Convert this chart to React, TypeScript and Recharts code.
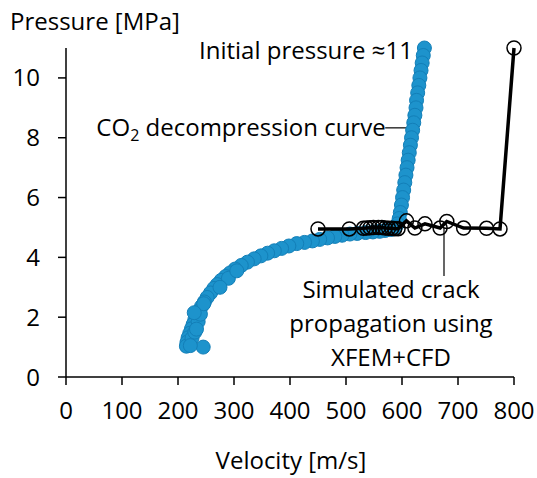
import React from 'react';
import { ScatterChart, Scatter, XAxis, YAxis, ReferenceLine } from 'recharts';

const FONT = '"Open Sans", "Noto Sans", sans-serif';

// CO2 decompression curve [velocity m/s, pressure MPa]
const co2Velocity = [
  640, 638, 636, 634, 632, 630, 628, 626, 625, 623, 621, 619, 617, 615, 613, 611, 609, 607, 605, 603, 601, 599, 597,
  595, 592, 588, 580, 570, 560, 548, 535, 520, 507, 493, 480, 467, 453, 440, 426, 412, 398, 385, 372, 360, 348, 336,
  324, 313, 302, 293, 285, 277, 270, 264, 258, 252, 247, 242, 238, 234, 230, 227, 224, 221, 218, 216, 215,
  245, 236, 240, 225, 230, 222, 246, 229, 233, 290, 305, 275,
];
const co2Pressure = [
  11.0, 10.75, 10.5, 10.25, 10.0, 9.75, 9.5, 9.25, 9.0, 8.75, 8.5, 8.25, 8.0, 7.75, 7.5, 7.25, 7.0, 6.75, 6.5, 6.25, 6.0, 5.75, 5.5,
  5.3, 5.12, 5.0, 4.93, 4.9, 4.87, 4.85, 4.83, 4.8, 4.78, 4.74, 4.7, 4.65, 4.6, 4.55, 4.5, 4.46, 4.38, 4.3, 4.22, 4.14, 4.05, 3.95,
  3.84, 3.73, 3.61, 3.48, 3.36, 3.23, 3.09, 2.96, 2.81, 2.66, 2.51, 2.36, 2.21, 2.06, 1.91, 1.76, 1.61, 1.46, 1.31, 1.16, 1.03,
  1.0, 1.85, 2.1, 1.3, 1.5, 1.05, 2.45, 2.15, 1.6, 3.3, 3.55, 3.0,
];

// Simulated crack propagation (XFEM+CFD)
const simVelocity = [450, 506, 531, 537, 543, 549, 558, 564, 570, 576, 582, 587, 593, 608, 623, 641, 668, 680, 710, 751, 775, 800];
const simPressure = [4.95, 4.95, 4.97, 4.98, 4.99, 5.0, 5.0, 5.0, 4.98, 4.97, 4.97, 4.96, 4.96, 5.22, 4.98, 5.12, 4.98, 5.2, 4.98, 4.97, 4.95, 11.0];

const xTicks = [0, 100, 200, 300, 400, 500, 600, 700, 800];
const yTicks = [0, 2, 4, 6, 8, 10];

const co2Data = co2Velocity.map((v, i) => ({ v, p: co2Pressure[i] }));
const simData = simVelocity.map((v, i) => ({ v, p: simPressure[i] }));

const BlueDot = (props: any) => (
  <circle cx={props.cx} cy={props.cy} r={7} fill="#1d93cc" stroke="#137fb8" strokeWidth={1} />
);
const RingDot = (props: any) => (
  <circle cx={props.cx} cy={props.cy} r={7} fill="none" stroke="#000" strokeWidth={1.5} />
);

const tickStyle = { fill: '#000', fontSize: 24, fontFamily: FONT };

export default function App() {
  return (
    <div style={{ position: 'absolute', left: 0, top: 0, width: 537, height: 478, background: '#fff' }}>
      <ScatterChart width={537} height={478} margin={{ top: 48, right: 23, bottom: 41, left: 0 }}>
        <XAxis
          type="number"
          dataKey="v"
          domain={[0, 800]}
          ticks={xTicks}
          interval={0}
          height={60}
          tickSize={8}
          tickMargin={17}
          tick={tickStyle}
          axisLine={{ stroke: '#000', strokeWidth: 1.5 }}
          tickLine={{ stroke: '#000', strokeWidth: 1.5 }}
        />
        <YAxis
          type="number"
          dataKey="p"
          domain={[0, 11]}
          ticks={yTicks}
          interval={0}
          width={66}
          tickSize={8}
          tickMargin={18}
          tick={tickStyle}
          axisLine={{ stroke: '#000', strokeWidth: 1.5 }}
          tickLine={{ stroke: '#000', strokeWidth: 1.5 }}
        />
        <ReferenceLine segment={[{ x: 570, y: 8.33 }, { x: 620, y: 8.33 }]} stroke="#000" strokeWidth={1.2} ifOverflow="visible" />
        <ReferenceLine segment={[{ x: 675, y: 4.98 }, { x: 675, y: 3.38 }]} stroke="#000" strokeWidth={1.2} ifOverflow="visible" />
        <Scatter data={co2Data} shape={BlueDot} isAnimationActive={false} />
        <Scatter
          data={simData}
          shape={RingDot}
          line={{ stroke: '#000', strokeWidth: 3.5 }}
          lineType="joint"
          isAnimationActive={false}
        />
      </ScatterChart>
      <svg
        width={537}
        height={478}
        style={{ position: 'absolute', left: 0, top: 0, pointerEvents: 'none' }}
        fontFamily={FONT}
        fontSize={24}
        fill="#000"
      >
        <text x={10} y={30}>Pressure [MPa]</text>
        <text x={306} y={59} textAnchor="middle">Initial pressure ≈11</text>
        <text x={241} y={136} textAnchor="middle">
          CO<tspan fontSize={16} dy={5}>2</tspan><tspan dy={-5}> decompression curve</tspan>
        </text>
        <text x={391} y={298} textAnchor="middle">Simulated crack</text>
        <text x={391} y={332} textAnchor="middle">propagation using</text>
        <text x={391} y={366} textAnchor="middle">XFEM+CFD</text>
        <text x={291} y={469} textAnchor="middle">Velocity [m/s]</text>
      </svg>
    </div>
  );
}
